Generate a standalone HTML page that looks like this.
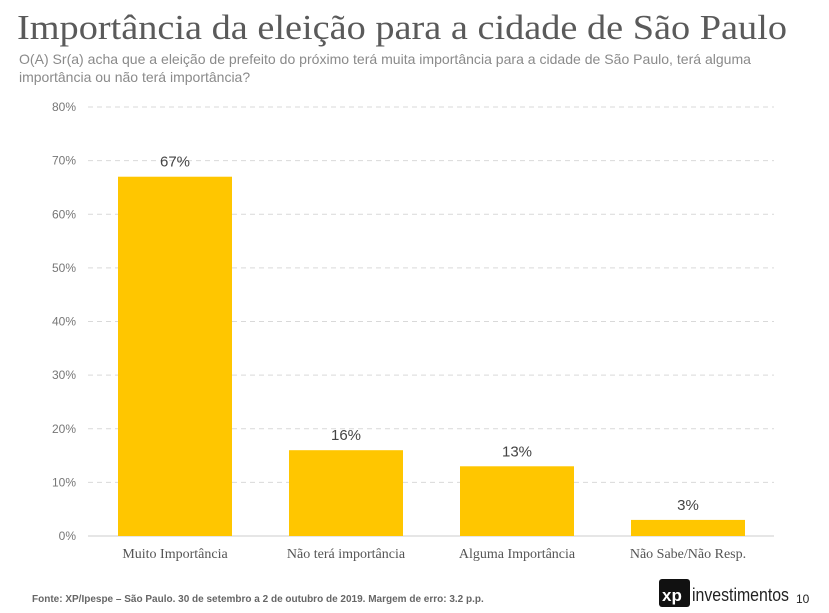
<!DOCTYPE html>
<html><head><meta charset="utf-8"><style>
body{margin:0;background:#fff;}
svg{display:block;}
</style></head><body>
<svg id="chart" width="829" height="613" xmlns="http://www.w3.org/2000/svg">
<text x="17" y="39" font-family="'Liberation Serif',serif" font-size="35" fill="#5a5a5a" textLength="770" lengthAdjust="spacingAndGlyphs">Importância da eleição para a cidade de São Paulo</text>
<text x="19" y="64" font-family="'Liberation Sans',sans-serif" font-size="14" fill="#8a8a8a" textLength="732" lengthAdjust="spacingAndGlyphs">O(A) Sr(a) acha que a eleição de prefeito do próximo terá muita importância para a cidade de São Paulo, terá alguma</text>
<text x="19" y="82" font-family="'Liberation Sans',sans-serif" font-size="14" fill="#8a8a8a">importância ou não terá importância?</text>
<g id="grid"></g>
<g id="bars"></g>
<text x="32" y="602" font-family="'Liberation Sans',sans-serif" font-size="10" font-weight="bold" fill="#666">Fonte: XP/Ipespe – São Paulo. 30 de setembro a 2 de outubro de 2019. Margem de erro: 3.2 p.p.</text>
<g>
<rect x="659" y="579" width="31" height="28" rx="3" fill="#111"/>
<text x="662" y="601" font-family="'Liberation Sans',sans-serif" font-size="17" font-weight="bold" fill="#fff">xp</text>
<text x="692" y="601" font-family="'Liberation Sans',sans-serif" font-size="18" fill="#222" textLength="97" lengthAdjust="spacingAndGlyphs">investimentos</text>
</g>
<text x="796" y="603" font-family="'Liberation Sans',sans-serif" font-size="12" fill="#222">10</text>
</svg>
<script>
const categories=["Muito Importância","Não terá importância","Alguma Importância","Não Sabe/Não Resp."];
const values=[67,16,13,3];
const valueLabels=["67%","16%","13%","3%"];
const ticks=[0,10,20,30,40,50,60,70,80];
const NS="http://www.w3.org/2000/svg";
const y0=536,yTop=107,vmax=80;
function y(v){return y0-(v/vmax)*(y0-yTop);}
const firstCenter=175,step=171,bw=114;
function xc(i){return firstCenter+step*i;}
const grid=document.getElementById('grid'),bars=document.getElementById('bars');
function mk(t,a,p){const e=document.createElementNS(NS,t);for(const k in a)e.setAttribute(k,a[k]);p.appendChild(e);return e;}
ticks.forEach(t=>{
  const l=mk('line',{x1:88,x2:774,y1:y(t),y2:y(t),stroke:t===0?'#ccc':'#d9d9d9','stroke-dasharray':t===0?'':'5,4','stroke-width':1},grid);
  
  
  const tx=mk('text',{x:76,y:y(t)+4,'text-anchor':'end','font-family':"'Liberation Sans',sans-serif",'font-size':12,fill:'#777'},grid);
  tx.textContent=t+'%';
  
  
});
categories.forEach((c,i)=>{
  const r=mk('rect',{x:xc(i)-bw/2,y:y(values[i]),width:bw,height:y0-y(values[i]),fill:'#ffc600'},bars);
  
  
  const v=mk('text',{x:xc(i),y:y(values[i])-10,'text-anchor':'middle','font-family':"'Liberation Sans',sans-serif",'font-size':15,fill:'#444'},bars);
  v.textContent=valueLabels[i];
  
  
  const cl=mk('text',{x:xc(i),y:558,'text-anchor':'middle','font-family':"'Liberation Serif',serif",'font-size':14,fill:'#555'},bars);
  cl.textContent=c;
  
  
});
</script>
</body></html>
